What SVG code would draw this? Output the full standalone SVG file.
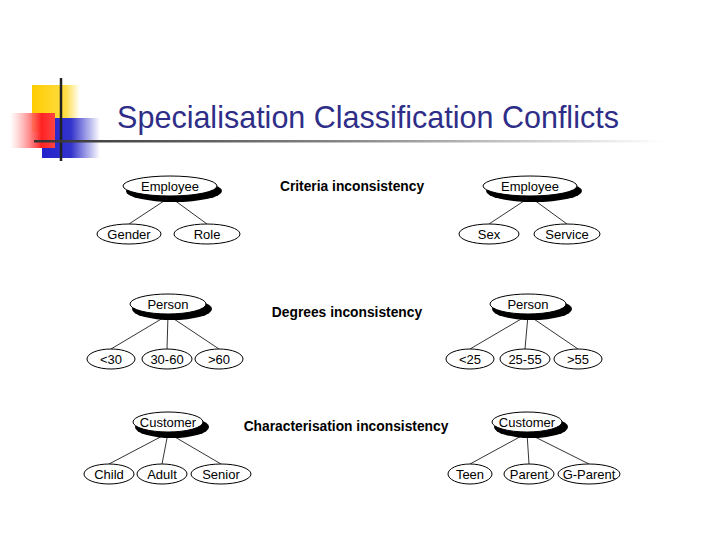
<svg xmlns="http://www.w3.org/2000/svg" width="720" height="540" viewBox="0 0 720 540">
<defs>
<linearGradient id="rg" x1="0" x2="1"><stop offset="0" stop-color="#fff" stop-opacity="0.6"/><stop offset="0.7" stop-color="#f22"/><stop offset="1" stop-color="#f44"/></linearGradient>
<linearGradient id="bg" x1="0" x2="1"><stop offset="0" stop-color="#22c"/><stop offset="0.5" stop-color="#33c"/><stop offset="1" stop-color="#fff"/></linearGradient>
<linearGradient id="yg" x1="0" x2="1"><stop offset="0" stop-color="#fc0"/><stop offset="0.7" stop-color="#fd4"/><stop offset="1" stop-color="#fff"/></linearGradient>
<linearGradient id="lg" x1="0" x2="1"><stop offset="0" stop-color="#333"/><stop offset="0.5" stop-color="#888"/><stop offset="1" stop-color="#fff"/></linearGradient>
</defs>
<style>
text{font-family:"Liberation Sans",Arial,sans-serif;font-size:13px;fill:#000;text-anchor:middle}
.b{font-weight:bold;font-size:13.8px}
.e{fill:#fff;stroke:#000;stroke-width:1}
.s{fill:#000}
.c line{stroke:#000;stroke-width:0.8}
</style>
<rect width="720" height="540" fill="#fff"/>
<g id="logo">
<rect x="32" y="85" width="48" height="47" fill="url(#yg)"/>
<rect x="42" y="118" width="58" height="40" fill="url(#bg)"/>
<rect x="10" y="113" width="45" height="35" fill="url(#rg)"/>
<line x1="61" y1="78" x2="61" y2="161" stroke="#222" stroke-width="2.5"/>
<rect x="34" y="140" width="630" height="2.5" fill="url(#lg)"/>
</g>
<text x="368" y="128" style="font-size:30.5px;fill:#2e2e88">Specialisation Classification Conflicts</text>
<text class="b" x="352" y="191">Criteria inconsistency</text>
<text class="b" x="347" y="317">Degrees  inconsistency</text>
<text class="b" x="346" y="431">Characterisation inconsistency</text>
<g class="c">
<line x1="170" y1="197" x2="129" y2="224"/><line x1="170" y1="197" x2="207" y2="224"/>
<line x1="530" y1="197" x2="489" y2="224"/><line x1="530" y1="197" x2="567" y2="224"/>
<line x1="168" y1="315" x2="111" y2="349"/><line x1="168" y1="315" x2="167" y2="349"/><line x1="168" y1="315" x2="219" y2="349"/>
<line x1="528" y1="315" x2="470" y2="349"/><line x1="528" y1="315" x2="525" y2="349"/><line x1="528" y1="315" x2="578" y2="349"/>
<line x1="168" y1="433" x2="109" y2="464"/><line x1="168" y1="433" x2="162" y2="464"/><line x1="168" y1="433" x2="221" y2="464"/>
<line x1="527" y1="433" x2="470" y2="464"/><line x1="527" y1="433" x2="529" y2="464"/><line x1="527" y1="433" x2="589" y2="464"/>
</g>
<g id="emp1"><ellipse class="s" cx="174" cy="191" rx="48" ry="11"/><ellipse class="e" cx="170" cy="186" rx="47" ry="10"/><text x="170" y="191">Employee</text></g>
<g id="gender"><ellipse class="e" cx="129" cy="234" rx="32" ry="10"/><text x="129" y="239">Gender</text></g>
<g id="role"><ellipse class="e" cx="207" cy="234" rx="33" ry="10"/><text x="207" y="239">Role</text></g>
<g id="emp2"><ellipse class="s" cx="534" cy="191" rx="48" ry="11"/><ellipse class="e" cx="530" cy="186" rx="47" ry="10"/><text x="530" y="191">Employee</text></g>
<g id="sex"><ellipse class="e" cx="489" cy="234" rx="30" ry="10"/><text x="489" y="239">Sex</text></g>
<g id="service"><ellipse class="e" cx="567" cy="234" rx="33" ry="10"/><text x="567" y="239">Service</text></g>
<g id="person1"><ellipse class="s" cx="172" cy="309" rx="40" ry="11"/><ellipse class="e" cx="168" cy="304" rx="38" ry="10"/><text x="168" y="309">Person</text></g>
<g id="lt30"><ellipse class="e" cx="111" cy="359" rx="24" ry="10"/><text x="111" y="364">&lt;30</text></g>
<g id="a3060"><ellipse class="e" cx="167" cy="359" rx="25" ry="10"/><text x="167" y="364">30-60</text></g>
<g id="gt60"><ellipse class="e" cx="219" cy="359" rx="24" ry="10"/><text x="219" y="364">&gt;60</text></g>
<g id="person2"><ellipse class="s" cx="532" cy="309" rx="40" ry="11"/><ellipse class="e" cx="528" cy="304" rx="38" ry="10"/><text x="528" y="309">Person</text></g>
<g id="lt25"><ellipse class="e" cx="470" cy="359" rx="24" ry="10"/><text x="470" y="364">&lt;25</text></g>
<g id="a2555"><ellipse class="e" cx="525" cy="359" rx="25" ry="10"/><text x="525" y="364">25-55</text></g>
<g id="gt55"><ellipse class="e" cx="578" cy="359" rx="24" ry="10"/><text x="578" y="364">&gt;55</text></g>
<g id="cust1"><ellipse class="s" cx="172" cy="427" rx="37" ry="11"/><ellipse class="e" cx="168" cy="422" rx="35" ry="10"/><text x="168" y="427">Customer</text></g>
<g id="child"><ellipse class="e" cx="109" cy="474" rx="25" ry="10"/><text x="109" y="479">Child</text></g>
<g id="adult"><ellipse class="e" cx="162" cy="474" rx="25" ry="10"/><text x="162" y="479">Adult</text></g>
<g id="senior"><ellipse class="e" cx="221" cy="474" rx="30" ry="10"/><text x="221" y="479">Senior</text></g>
<g id="cust2"><ellipse class="s" cx="531" cy="427" rx="37" ry="11"/><ellipse class="e" cx="527" cy="422" rx="35" ry="10"/><text x="527" y="427">Customer</text></g>
<g id="teen"><ellipse class="e" cx="470" cy="474" rx="22" ry="10"/><text x="470" y="479">Teen</text></g>
<g id="parent"><ellipse class="e" cx="529" cy="474" rx="25" ry="10"/><text x="529" y="479">Parent</text></g>
<g id="gparent"><ellipse class="e" cx="589" cy="474" rx="31" ry="10"/><text x="589" y="479">G-Parent</text></g>
</svg>
